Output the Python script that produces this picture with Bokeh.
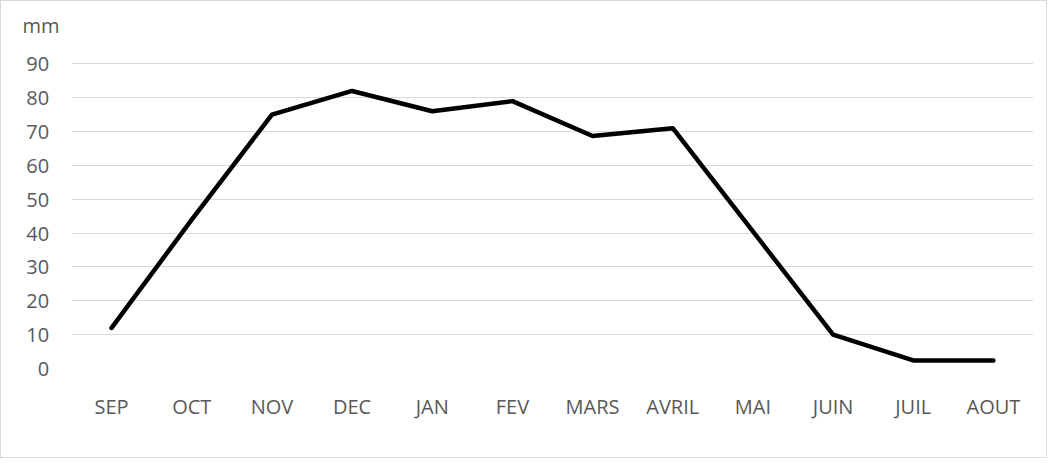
from bokeh.plotting import figure
from bokeh.models import FactorRange, Range1d, FixedTicker
from bokeh.embed import file_html
from bokeh.resources import INLINE

months = ["SEP", "OCT", "NOV", "DEC", "JAN", "FEV", "MARS", "AVRIL", "MAI", "JUIN", "JUIL", "AOUT"]
rain_mm = [12, 44, 75, 82, 76, 79, 68.7, 71, 40.5, 10, 2.4, 2.4]
y_ticks = [0, 10, 20, 30, 40, 50, 60, 70, 80, 90]
unit_label = "mm"

FONT = "Open Sans"
GREY = "#595959"
UNIT_POS = 101.2  # vertical position of the unit label, above the top tick
PAD = "\u00a0\u00a0"  # keeps the numbers slightly left of the unit label

p = figure(x_range=FactorRange(*months), y_range=Range1d(0, 104),
           width=1047, height=458, output_backend="svg", toolbar_location=None,
           min_border_left=70, min_border_right=15, min_border_top=15, min_border_bottom=91)
p.line(months, rain_mm, line_color="black", line_width=4.5, line_cap="round", line_join="round")

p.outline_line_color = None
p.xgrid.grid_line_color = None
p.ygrid.grid_line_color = "#d9d9d9"
p.ygrid.grid_line_width = 1
p.ygrid[0].ticker = FixedTicker(ticks=y_ticks)
p.yaxis.ticker = FixedTicker(ticks=y_ticks + [UNIT_POS])
overrides = {t: f"{t}{PAD}" for t in y_ticks}
overrides[UNIT_POS] = unit_label
p.yaxis.major_label_overrides = overrides
for ax in (p.xaxis[0], p.yaxis[0]):
    ax.axis_line_color = None
    ax.major_tick_line_color = None
    ax.minor_tick_line_color = None
    ax.major_label_text_font = FONT
    ax.major_label_text_font_size = "20px"
    ax.major_label_text_color = GREY
p.yaxis.major_tick_out = 0
p.yaxis.major_tick_in = 0
p.yaxis.major_label_standoff = 12
p.xaxis.major_label_standoff = 18
p.styles = {"border": "1px solid #d9d9d9"}

open("out.html", "w").write(file_html(p, INLINE))
